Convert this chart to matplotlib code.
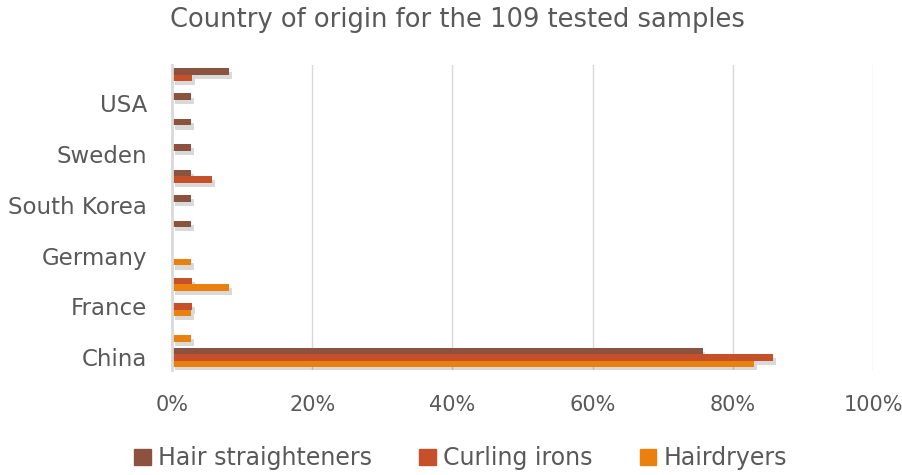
import matplotlib.pyplot as plt
import matplotlib.patheffects as pe
from matplotlib.patches import Patch
import numpy as np

# categories from bottom to top; only every other one gets a label (as in the original)
countries = ["China", "", "France", "", "Germany", "", "South Korea", "", "Sweden", "", "USA", ""]
series = ["Hair straighteners", "Curling irons", "Hairdryers"]

# share of samples per product type (%)
straighteners = [75.7, 0, 0, 0, 0, 2.7, 2.7, 2.7, 2.7, 2.7, 2.7, 8.1]
curling = [85.7, 0, 2.9, 2.9, 0, 0, 0, 5.7, 0, 0, 0, 2.9]
hairdryers = [83.0, 2.7, 2.7, 8.1, 2.7, 0, 0, 0, 0, 0, 0, 0]

colors = ["#8b5240", "#c5502a", "#ea810f"]
text_col = "#595959"

plt.rcParams['font.family'] = ['DejaVu Sans']

fig = plt.figure(figsize=(9.03, 4.75), dpi=100)
ax = fig.add_axes([0.1905, 0.221, 0.7763, 0.642])

y = np.arange(len(countries))
h = 0.255
shadow = [pe.SimplePatchShadow(offset=(2, -3), shadow_rgbFace="#000000", alpha=0.15), pe.Normal()]
for vals, off, col, name in zip([straighteners, curling, hairdryers], [h, 0, -h], colors, series):
    bars = ax.barh(y + off, vals, height=h, color=col, label=name, zorder=3)
    for b in bars:
        b.set_path_effects(shadow)

ax.set_xlim(0, 100)
ax.set_ylim(-0.5, len(countries) - 0.5)
ax.set_xticks(np.arange(0, 101, 20))
ax.set_xticklabels([f"{v}%" for v in range(0, 101, 20)])
ax.set_yticks(y)
ax.set_yticklabels(countries)
ax.tick_params(length=0, colors=text_col)
ax.tick_params(axis="x", labelsize=15, pad=18)
ax.tick_params(axis="y", labelsize=16.5, pad=18)

ax.grid(axis="x", color="#d9d9d9", linewidth=1, zorder=0)
for s in ["top", "right", "bottom"]:
    ax.spines[s].set_visible(False)
ax.spines["left"].set_color("#d9d9d9")
ax.spines["left"].set_linewidth(2)
ax.spines["left"].set_zorder(4)

fig.suptitle("Country of origin for the 109 tested samples", x=0.507, y=0.985,
             fontsize=18.5, color=text_col)

handles = [Patch(color=c) for c in colors]
fig.legend(handles, series, loc="lower center", ncol=3, frameon=False,
           bbox_to_anchor=(0.51, -0.035), fontsize=17, labelcolor=text_col,
           handlelength=0.7, handleheight=0.7, handletextpad=0.3, columnspacing=2.0)

fig.savefig("out.png", dpi=100)
